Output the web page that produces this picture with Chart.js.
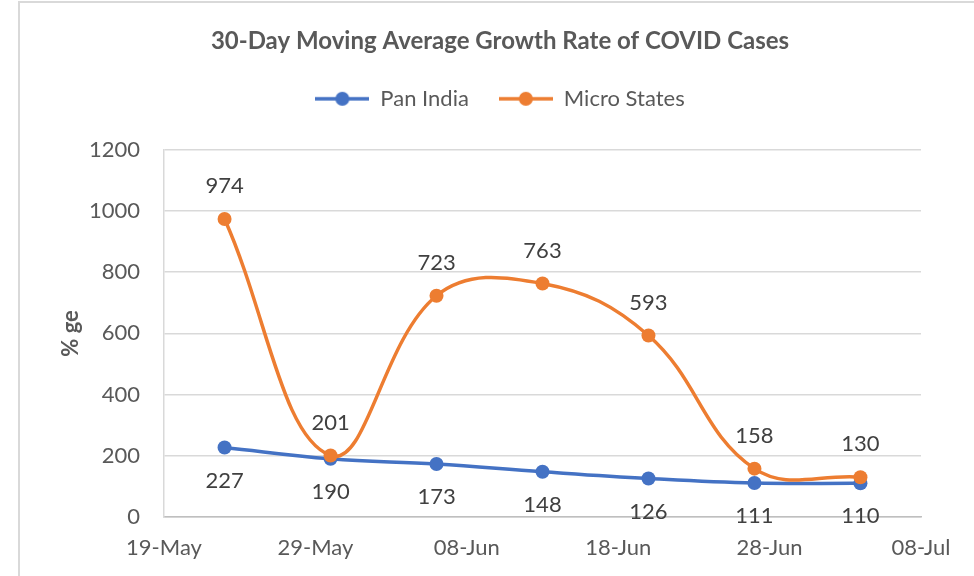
<!DOCTYPE html>
<html>
<head>
<meta charset="utf-8">
<script src="https://cdn.jsdelivr.net/npm/chart.js@4.4.1/dist/chart.umd.min.js"></script>
<style>
  body { margin: 0; background: #fff; }
  #wrap { width: 974px; height: 576px; position: relative; }
</style>
</head>
<body>
<div id="wrap"><canvas id="chart"></canvas></div>
<script>
// data (weekly points, 2020)
const categories = ['23-May', '30-May', '06-Jun', '13-Jun', '20-Jun', '27-Jun', '04-Jul'];
const dayOffsets = [4, 11, 18, 25, 32, 39, 46]; // days after 19-May
const panIndia = [227, 190, 173, 148, 126, 111, 110];
const microStates = [974, 201, 723, 763, 593, 158, 130];
const xTickLabels = ['19-May', '29-May', '08-Jun', '18-Jun', '28-Jun', '08-Jul'];

const blue = '#4472C4', orange = '#ED7D31';
const textGrey = '#595959';

Chart.defaults.font.family = 'Lato';

// legend icon: line with a dot, like the spreadsheet one
function legendIcon(color) {
    const c = document.createElement('canvas');
    c.width = 54; c.height = 16;
    const g = c.getContext('2d');
    g.strokeStyle = color; g.lineWidth = 3.5;
    g.beginPath(); g.moveTo(0, 8); g.lineTo(54, 8); g.stroke();
    g.fillStyle = color;
    g.beginPath(); g.arc(27, 8, 7, 0, Math.PI * 2); g.fill();
    return c;
}
const icons = [legendIcon(blue), legendIcon(orange)];

const frame = {
    id: 'frame',
    beforeDraw(chart) {
        const c = chart.ctx;
        c.save();
        c.strokeStyle = '#d9d9d9';
        c.lineWidth = 2;
        c.strokeRect(19, 2, 1000, 600);
        c.restore();
    }
};

const valueLabels = {
    id: 'valueLabels',
    afterDatasetsDraw(chart) {
        const c = chart.ctx;
        c.save();
        c.font = '22px Lato';
        c.fillStyle = '#404040';
        c.textAlign = 'center';
        c.textBaseline = 'middle';
        chart.data.datasets.forEach((ds, i) => {
            const meta = chart.getDatasetMeta(i);
            const dy = i === 0 ? 33 : -33;
            meta.data.forEach((pt, j) => {
                c.fillText(ds.data[j].y, pt.x, pt.y + dy);
            });
        });
        c.restore();
    }
};

const toPoints = vals => vals.map((v, i) => ({ x: dayOffsets[i], y: v, date: categories[i] }));

new Chart(document.getElementById('chart'), {
    type: 'line',
    data: {
        datasets: [{
            label: 'Pan India',
            data: toPoints(panIndia),
            borderColor: blue,
            backgroundColor: blue,
            borderWidth: 3.5,
            pointRadius: 7,
            pointBorderWidth: 0,
            tension: 0.4,
            order: 1
        }, {
            label: 'Micro States',
            data: toPoints(microStates),
            borderColor: orange,
            backgroundColor: orange,
            borderWidth: 3.5,
            pointRadius: 7,
            pointBorderWidth: 0,
            tension: 0.4,
            order: 0
        }]
    },
    options: {
        responsive: true,
        maintainAspectRatio: false,
        animation: false,
        layout: { padding: { top: 2, left: 26, right: 0, bottom: 0 } },
        plugins: {
            title: {
                display: true,
                text: '30-Day Moving Average Growth Rate of COVID Cases',
                color: textGrey,
                font: { size: 24, weight: 'bold' },
                padding: { top: 25, bottom: 2 }
            },
            legend: {
                weight: 1600,
                labels: {
                    usePointStyle: true,
                    pointStyleWidth: 54,
                    padding: 30,
                    color: textGrey,
                    font: { size: 22 },
                    generateLabels(chart) {
                        const items = Chart.defaults.plugins.legend.labels.generateLabels(chart);
                        items.sort((a, b) => a.datasetIndex - b.datasetIndex);
                        items.forEach(it => { it.pointStyle = icons[it.datasetIndex]; });
                        return items;
                    }
                }
            },
            // empty subtitle only keeps the gap between legend and plot
            subtitle: {
                display: true,
                text: '',
                font: { size: 10 },
                padding: { top: 0, bottom: 18 }
            },
            tooltip: { enabled: false }
        },
        scales: {
            x: {
                type: 'linear',
                min: 0,
                max: 50,
                afterFit(s) { s.height = 59; s.paddingRight = 53; },
                afterBuildTicks(s) { s.ticks = xTickLabels.map((t, i) => ({ value: i * 10 })); },
                ticks: {
                    color: textGrey,
                    font: { size: 22 },
                    padding: 18,
                    maxRotation: 0,
                    autoSkip: false,
                    callback: (v, i) => xTickLabels[i]
                },
                grid: { display: false, drawTicks: false },
                border: { display: true, color: '#bfbfbf', width: 1.5 }
            },
            y: {
                min: 0,
                max: 1200,
                afterFit(s) { s.width = 138; },
                ticks: {
                    stepSize: 200,
                    color: textGrey,
                    font: { size: 22 },
                    padding: 24,
                    callback: v => String(v)
                },
                grid: { color: '#d9d9d9', lineWidth: 1.5, drawTicks: false },
                border: { display: true, color: '#d9d9d9', width: 1.5 },
                title: {
                    display: true,
                    text: '% ge',
                    color: textGrey,
                    font: { size: 22, weight: 'bold' },
                    padding: { top: 32, bottom: 0 }
                }
            }
        }
    },
    plugins: [frame, valueLabels]
});
</script>
</body>
</html>
